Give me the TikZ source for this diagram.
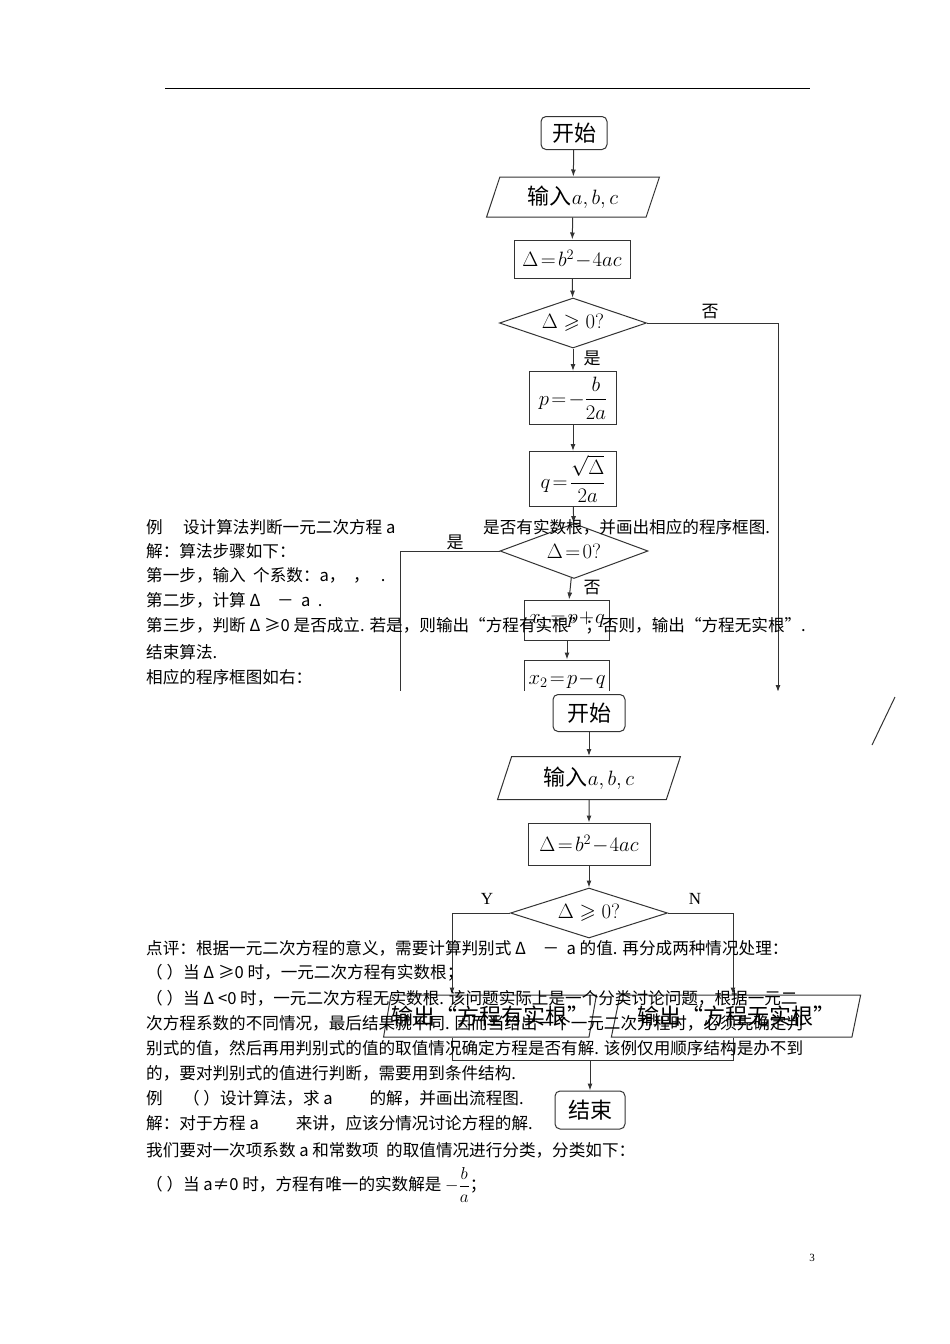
\documentclass[tikz,border=0pt]{standalone}
\usepackage{amsmath,amssymb}
\usepackage{fontspec}
\setmainfont{Liberation Serif}
\newfontfamily\cjk{Noto Sans CJK SC}
\usetikzlibrary{shapes.geometric,arrows.meta}
\begin{document}
\begin{tikzpicture}[x=1pt,y=-1pt,
  ln/.style={draw=black!80,line width=1pt},
  arr/.style={ln,-{Latex[length=7pt,width=5pt]}},
  fbox/.style={draw=black!80,line width=1pt,inner sep=0pt,font=\fontsize{22}{22}\selectfont},
  term/.style={fbox,rounded corners=5pt},
  para/.style={fbox,trapezium,trapezium left angle=70,trapezium right angle=110,trapezium stretches=true},
  dia/.style={fbox,diamond,aspect=3,font=\fontsize{21}{21}\selectfont},
  lab/.style={font=\cjk\fontsize{17}{17}\selectfont},
  txt/.style={anchor=west,inner sep=0pt,font=\cjk\fontsize{16.6}{16.6}\selectfont}]
\useasboundingbox (0,0) rectangle (950,1344);
\fill[white] (0,0) rectangle (950,1344);
\draw[line width=1pt] (165,88) -- (810,88);
% upper flowchart
\begin{scope}
\clip (0,0) rectangle (950,690);
\node[term,minimum width=66pt,minimum height=33pt] (s1) at (574,133) {\cjk 开始};
\node[para,minimum width=173pt,minimum height=40pt] (i1) at (573,197) {\cjk 输入$a,b,c$};
\node[fbox,minimum width=116pt,minimum height=38pt] (d1) at (572,259) {$\Delta\!=\!b^2\!-\!4ac$};
\node[dia,minimum width=147pt,minimum height=50pt] (c1) at (573,323) {$\Delta\geqslant0?$};
\node[fbox,minimum width=87pt,minimum height=53pt] (p1) at (573,398) {$p\!=\!-\dfrac{b}{2a}$};
\node[fbox,minimum width=87pt,minimum height=55pt] (q1) at (573,479) {$q\!=\!\dfrac{\sqrt{\Delta}}{2a}$};
\node[dia,minimum width=148pt,minimum height=55pt] (c2) at (574,551) {$\Delta\!=\!0?$};
\node[fbox,minimum width=85pt,minimum height=40pt] (x1) at (567,620) {$x_1\!=\!p\!+\!q$};
\node[fbox,minimum width=85pt,minimum height=40pt] (x2) at (567,680) {$x_2\!=\!p\!-\!q$};
\coordinate (r1) at (778,323); \coordinate (r2) at (778,692);
\coordinate (l1) at (400,551); \coordinate (l2) at (400,700);
\draw[arr] (s1) -- (i1); \draw[arr] (i1) -- (d1); \draw[arr] (d1) -- (c1);
\draw[arr] (c1) -- (p1); \draw[arr] (p1) -- (q1); \draw[arr] (q1) -- (c2);
\draw[arr] (c2) -- (x1); \draw[arr] (x1) -- (x2);
\draw[arr] (c1.east) -- (r1) -- (r2);
\draw[ln] (c2.west) -- (l1) -- (l2);
\node[lab] at (710,312) {否};
\node[lab] at (592,358) {是};
\node[lab] at (455,542) {是};
\node[lab] at (592,588) {否};
\end{scope}
\draw[ln] (895,697) -- (872,745);
% lower flowchart
\node[term,minimum width=72pt,minimum height=37pt] (s2) at (589,713) {\cjk 开始};
\node[para,minimum width=183pt,minimum height=43pt] (i2) at (589,778) {\cjk 输入$a,b,c$};
\node[fbox,minimum width=122pt,minimum height=42pt] (d2) at (589,844) {$\Delta\!=\!b^2\!-\!4ac$};
\node[dia,minimum width=157pt,minimum height=50pt] (c3) at (589,913) {$\Delta\geqslant0?$};
\node[para,minimum width=205pt,minimum height=42pt] (o1) at (490,1016) {\cjk 输出“方程有实根”};
\node[para,minimum width=250pt,minimum height=42pt] (o2) at (736,1016) {\cjk 输出“方程无实根”};
\node[term,minimum width=70pt,minimum height=38pt] (e2) at (590,1110) {\cjk 结束};
\coordinate (yl) at (452,913); \coordinate (nr) at (733,913);
\coordinate (yl2) at (452,1060); \coordinate (nr2) at (733,1060); \coordinate (mm) at (590,1060);
\draw[arr] (s2) -- (i2); \draw[arr] (i2) -- (d2); \draw[arr] (d2) -- (c3);
\draw[arr] (c3.west) -- (yl) -- (yl|-o1.north);
\draw[arr] (c3.east) -- (nr) -- (nr|-o2.north);
\draw[ln] (yl|-o1.south) -- (yl2) -- (nr2) -- (nr|-o2.south);
\draw[arr] (mm) -- (e2);
\node[font=\fontsize{17}{17}\selectfont] at (487,899) {Y};
\node[font=\fontsize{17}{17}\selectfont] at (695,899) {N};
% text
\node[txt] at (146,527) {例\quad\ 设计算法判断一元二次方程 a};
\node[txt] at (483,527) {是否有实数根，并画出相应的程序框图.};
\node[txt] at (146,551) {解：算法步骤如下：};
\node[txt] at (146,575) {第一步，输入\ \ 个系数：a，\ \ ，\ \ \ .};
\node[txt] at (146,600) {第二步，计算 Δ\quad －\ \ a\ \ .};
\node[txt] at (146,626) {第三步，判断 Δ ≥0 是否成立. 若是，则输出“方程有实根”；否则，输出“方程无实根”.};
\node[txt] at (146,652) {结束算法.};
\node[txt] at (146,677) {相应的程序框图如右：};
\node[txt] at (146,948) {点评：根据一元二次方程的意义，需要计算判别式 Δ\quad －\ \ a 的值. 再分成两种情况处理：};
\node[txt] at (146,973) {（ ）当 Δ ≥0 时，一元二次方程有实数根；};
\node[txt] at (146,998) {（ ）当 Δ <0 时，一元二次方程无实数根. 该问题实际上是一个分类讨论问题，根据一元二};
\node[txt] at (146,1023) {次方程系数的不同情况，最后结果就不同. 因而当给出一个一元二次方程时，必须先确定判};
\node[txt] at (146,1048) {别式的值，然后再用判别式的值的取值情况确定方程是否有解. 该例仅用顺序结构是办不到};
\node[txt] at (146,1073) {的，要对判别式的值进行判断，需要用到条件结构.};
\node[txt] at (146,1098) {例\quad\ （ ）设计算法，求 a\qquad\ 的解，并画出流程图.};
\node[txt] at (146,1123) {解：对于方程 a\qquad\ 来讲，应该分情况讨论方程的解.};
\node[txt] at (146,1150) {我们要对一次项系数 a 和常数项\ \ 的取值情况进行分类，分类如下：};
\node[txt] at (146,1185) {（ ）当 a≠0 时，方程有唯一的实数解是 $-\dfrac{b}{a}$；};
\node[font=\fontsize{11}{11}\selectfont] at (812,1258) {3};
\end{tikzpicture}
\end{document}
